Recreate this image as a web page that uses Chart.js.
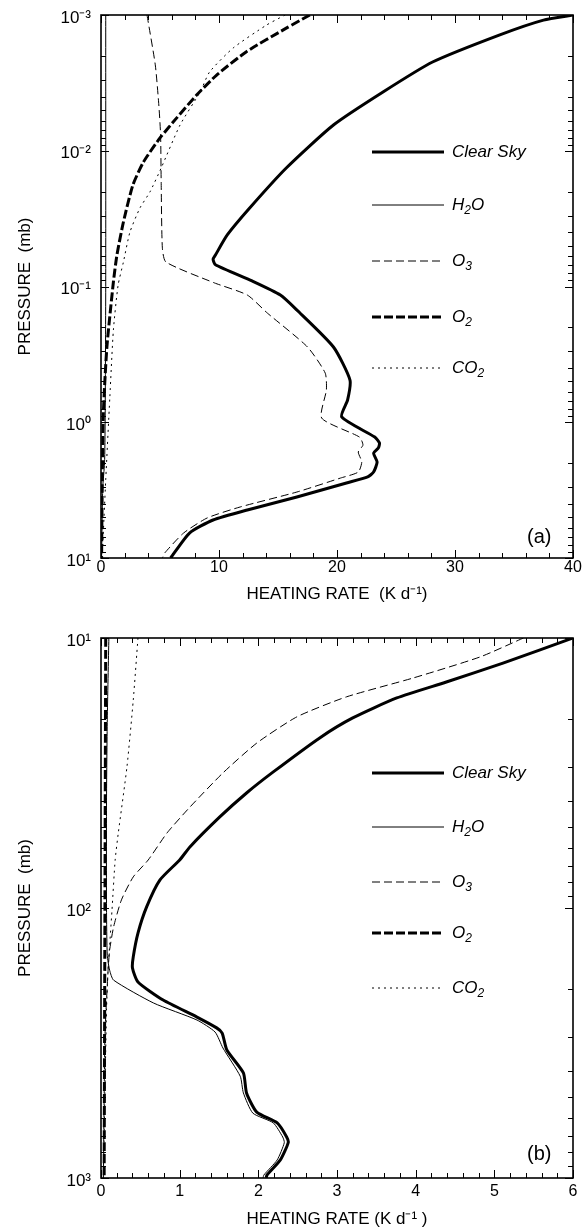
<!DOCTYPE html>
<html><head><meta charset="utf-8">
<script src="https://cdn.jsdelivr.net/npm/chart.js@4/dist/chart.umd.min.js"></script>
<style>
html,body{margin:0;padding:0;background:#fff;}
body{width:588px;height:1230px;position:relative;overflow:hidden;font-family:"Liberation Sans",Arial,sans-serif;color:#000;}
canvas{position:absolute;left:0;}
#cA{top:0}
#cB{top:600px}
.leg{position:absolute;height:20px;display:flex;align-items:center;font-style:italic;font-size:17px;line-height:20px;white-space:nowrap;}
.leg svg{display:block;flex:none}
.leg sub{font-size:12px;vertical-align:-4px;line-height:0}
.pl{position:absolute;font-size:20px;line-height:20px;}
</style></head><body>
<canvas id="cA" width="588" height="620"></canvas>
<canvas id="cB" width="588" height="630"></canvas>
<div id="overlay"></div>
<script>
// ---------- tick labels ----------
const xTickValsA = [0, 10, 20, 30, 40];
const xTickLabelsA = ['0', '10', '20', '30', '40'];
const yTickValsA = [0.001, 0.01, 0.1, 1, 10];
const yTickLabelsA = ['10\u207B\u00B3', '10\u207B\u00B2', '10\u207B\u00B9', '10\u2070', '10\u00B9'];
const xTickValsB = [0, 1, 2, 3, 4, 5, 6];
const xTickLabelsB = ['0', '1', '2', '3', '4', '5', '6'];
const yTickValsB = [10, 100, 1000];
const yTickLabelsB = ['10\u00B9', '10\u00B2', '10\u00B3'];
const seriesNames = ['Clear Sky', 'H<sub>2</sub>O', 'O<sub>3</sub>', 'O<sub>2</sub>', 'CO<sub>2</sub>'];
const panelLabels = ['(a)', '(b)'];

// ---------- panel (a): pressure (mb) and heating rate (K/d) ----------
const clearSkyA_p = [0.001,0.00109,0.0014,0.00222,0.00369,0.00646,0.0134,0.0264,0.0417,0.0586,0.063,0.0692,0.091,0.1156,0.149,0.279,0.489,0.685,0.914,1.285,1.422,1.549,1.687,1.963,2.328,2.529,2.8,3.556,4.426,5.248,6.546,10];
const clearSkyA_q = [40,37.5,33.8,28.1,23.9,19.7,15.7,12.6,10.7,9.7,9.5,9.7,12.8,15.2,16.6,19.7,21.1,20.9,20.4,23.2,23.6,23.5,23.1,23.4,23.1,22.6,20.8,16.6,12.4,9.5,7.5,5.9];
const h2oA_p = [0.001,0.1,1,2,3,10];
const h2oA_q = [0.4,0.4,0.35,0.3,0.15,0.05];
const o3A_p = [0.001,0.00233,0.0046,0.00766,0.017,0.052,0.066,0.094,0.1156,0.157,0.279,0.434,0.579,0.931,1.285,1.472,1.656,1.963,2.328,2.576,3.266,4.207,5.07,6.546,9.18,10];
const o3A_q = [3.9,4.6,4.9,5.05,5.1,5.2,5.5,9.6,12.4,14.1,17.5,19.0,19.1,18.7,21.9,22.2,21.8,22.1,21.8,20.3,16.6,11.8,9.0,7.0,5.4,5.2];
const o2A_p = [0.001,0.00125,0.00187,0.00277,0.00389,0.00575,0.00805,0.0121,0.0179,0.0335,0.0586,0.0927,0.279,0.855,3.16,10];
const o2A_q = [17.7,15.7,12.3,9.8,8.1,6.4,5.0,3.6,2.7,1.9,1.35,1.05,0.5,0.2,0.1,0.05];
const co2A_p = [0.001,0.00119,0.00175,0.00263,0.00369,0.00646,0.0134,0.0201,0.0264,0.0398,0.066,0.0977,0.209,0.652,2.66,10];
const co2A_q = [15.6,14.0,11.2,9.2,8.4,6.7,5.1,4.15,3.3,2.45,1.9,1.45,1.05,0.75,0.4,0.1];

// ---------- panel (b) ----------
const clearSkyB_p = [10,12.39,14.55,16.67,19.77,23.44,31.33,37.5,46.0,59.4,66.4,78.7,99.1,123.9,151.7,166.7,187.9,219.3,253.5,278,290.4,335.7,408.3,484.2,570.2,625.2,704.7,740,857,975,1000];
const clearSkyB_q = [6.0,5.11,4.39,3.76,3.2,2.78,2.19,1.85,1.51,1.13,1.0,0.75,0.58,0.47,0.41,0.40,0.47,0.79,1.22,1.47,1.54,1.6,1.81,1.85,1.98,2.24,2.36,2.38,2.28,2.11,2.1];
const h2oB_p = [10,20,40,100,150,170,185,225,260,288,330,420,484,575,625,705,740,857,975,1000];
const h2oB_q = [0.1,0.08,0.07,0.07,0.08,0.11,0.16,0.67,1.22,1.45,1.55,1.77,1.81,1.93,2.19,2.31,2.33,2.24,2.07,2.06];
const o3B_p = [10,11.75,14.06,16.52,19.59,24.5,31.6,42.3,52.7,66.4,76.7,93.3,117.5,143.2,170,300,1000];
const o3B_q = [5.37,4.82,3.97,3.12,2.49,1.98,1.55,1.13,0.84,0.6,0.41,0.26,0.16,0.11,0.09,0.05,0.03];
const o2B_p = [10,100,1000];
const o2B_q = [0.06,0.05,0.04];
const co2B_p = [10,17,30,52.7,66.4,101.6,170,239,1000];
const co2B_q = [0.47,0.41,0.33,0.22,0.18,0.14,0.09,0.07,0.03];

// ---------- styles ----------
const lineStyles = [
  {w: 3, dash: []},
  {w: 1, dash: []},
  {w: 1, dash: [8, 4]},
  {w: 3, dash: [9, 3]},
  {w: 1, dash: [2, 4]}
];
const FONT = '"Liberation Sans", Arial, Helvetica, sans-serif';

function mkData(p, q) { return p.map((v, i) => ({x: q[i], y: v})); }

const framePlugin = {
  id: 'frame',
  afterDatasetsDraw(chart, args, opts) {
    const {ctx, chartArea: a} = chart;
    const xs = chart.scales.x, ys = chart.scales.y;
    ctx.save();
    ctx.strokeStyle = '#000';
    ctx.lineWidth = 1;
    ctx.beginPath();
    const n = Math.round((xs.max - xs.min) / opts.xMinor);
    for (let i = 0; i <= n; i++) {
      const v = xs.min + i * opts.xMinor;
      const px = Math.round(xs.getPixelForValue(v)) + 0.5;
      const r = v / opts.xMajor;
      const L = Math.abs(r - Math.round(r)) < 1e-6 ? 8 : 5;
      ctx.moveTo(px, a.bottom); ctx.lineTo(px, a.bottom - L);
      ctx.moveTo(px, a.top); ctx.lineTo(px, a.top + L);
    }
    const e0 = Math.round(Math.log10(ys.min)), e1 = Math.round(Math.log10(ys.max));
    for (let e = e0; e <= e1; e++) {
      for (let m = 1; m <= 9; m++) {
        if (e === e1 && m > 1) break;
        const v = m * Math.pow(10, e);
        const py = Math.round(ys.getPixelForValue(v)) + 0.5;
        const L = m === 1 ? 8 : 5;
        ctx.moveTo(a.left, py); ctx.lineTo(a.left + L, py);
        ctx.moveTo(a.right, py); ctx.lineTo(a.right - L, py);
      }
    }
    ctx.stroke();
    ctx.lineWidth = 1.6;
    ctx.strokeRect(a.left, a.top, a.right - a.left, a.bottom - a.top);
    ctx.restore();
  }
};

function makeChart(id, series, c) {
  return new Chart(document.getElementById(id), {
    type: 'scatter',
    data: {
      datasets: series.map((s, i) => ({
        label: seriesNames[i].replace(/<\/?sub>/g, ''),
        data: mkData(s[0], s[1]),
        showLine: true, pointRadius: 0, pointHoverRadius: 0,
        borderColor: '#000', backgroundColor: '#000',
        borderWidth: lineStyles[i].w, borderDash: lineStyles[i].dash,
        borderJoinStyle: 'round', tension: 0.2, fill: false
      }))
    },
    options: {
      responsive: false, animation: false, devicePixelRatio: 1, events: [],
      layout: {padding: {left: 0, right: 15, top: c.padTop, bottom: 0}},
      plugins: {legend: {display: false}, tooltip: {enabled: false}, frame: {xMinor: c.xMinor, xMajor: c.xMajor}},
      scales: {
        x: {
          type: 'linear', min: c.xMin, max: c.xMax,
          afterBuildTicks: s => { s.ticks = c.xVals.map(v => ({value: v})); },
          ticks: {callback: (v, i) => c.xLabels[i], color: '#000', font: {family: FONT, size: 16}, padding: c.xPad, autoSkip: false, maxRotation: 0},
          grid: {display: false, drawTicks: false},
          border: {display: false},
          title: {display: true, text: c.xTitle, color: '#000', font: {family: FONT, size: 17, weight: 'normal'}, padding: {top: 0, bottom: c.xTitlePad}},
          afterFit: s => { s.height = c.xAxisH; s.paddingLeft = 0; s.paddingRight = 0; }
        },
        y: {
          type: 'logarithmic', reverse: true, min: c.yMin, max: c.yMax,
          afterBuildTicks: s => { s.ticks = c.yVals.map(v => ({value: v})); },
          ticks: {callback: (v, i) => c.yLabels[i], color: '#000', font: {family: FONT, size: 17}, padding: 10, labelOffset: 3, autoSkip: false},
          grid: {display: false, drawTicks: false},
          border: {display: false},
          title: {display: true, text: 'PRESSURE  (mb)', color: '#000', font: {family: FONT, size: 17, weight: 'normal'}, padding: {top: 15, bottom: 0}},
          afterFit: s => { s.width = 101; s.paddingTop = 0; s.paddingBottom = 0; }
        }
      }
    },
    plugins: [framePlugin]
  });
}

makeChart('cA',
  [[clearSkyA_p, clearSkyA_q], [h2oA_p, h2oA_q], [o3A_p, o3A_q], [o2A_p, o2A_q], [co2A_p, co2A_q]],
  {padTop: 15, xAxisH: 62, xPad: 0, xTitlePad: 15, xTitle: 'HEATING RATE  (K d\u207B\u00B9)',
   xMin: 0, xMax: 40, xVals: xTickValsA, xLabels: xTickLabelsA, xMinor: 2, xMajor: 10,
   yMin: 0.001, yMax: 10, yVals: yTickValsA, yLabels: yTickLabelsA});

makeChart('cB',
  [[clearSkyB_p, clearSkyB_q], [h2oB_p, h2oB_q], [o3B_p, o3B_q], [o2B_p, o2B_q], [co2B_p, co2B_q]],
  {padTop: 38, xAxisH: 52, xPad: 4, xTitlePad: 0, xTitle: 'HEATING RATE (K d\u207B\u00B9 )',
   xMin: 0, xMax: 6, xVals: xTickValsB, xLabels: xTickLabelsB, xMinor: 0.2, xMajor: 1,
   yMin: 10, yMax: 1000, yVals: yTickValsB, yLabels: yTickLabelsB});

// ---------- legends and panel labels (HTML text) ----------
const legendRowsA = [152, 205, 261, 317, 368];
const legendRowsB = [773, 827, 882, 933, 988];
const ov = document.getElementById('overlay');
function addLegend(rows) {
  rows.forEach((yc, i) => {
    const d = document.createElement('div');
    d.className = 'leg';
    d.style.left = '372px';
    d.style.top = (yc - 10) + 'px';
    const st = lineStyles[i];
    d.innerHTML = '<svg width="72" height="8"><line x1="0" y1="4" x2="72" y2="4" stroke="#000" stroke-width="' + st.w +
      '"' + (st.dash.length ? ' stroke-dasharray="' + st.dash.join(',') + '"' : '') + '/></svg>' +
      '<span style="margin-left:8px">' + seriesNames[i] + '</span>';
    ov.appendChild(d);
  });
}
addLegend(legendRowsA);
addLegend(legendRowsB);
[[527, 526], [527, 1143]].forEach((pos, i) => {
  const d = document.createElement('div');
  d.className = 'pl';
  d.style.left = pos[0] + 'px';
  d.style.top = pos[1] + 'px';
  d.textContent = panelLabels[i];
  ov.appendChild(d);
});
</script>
</body></html>
